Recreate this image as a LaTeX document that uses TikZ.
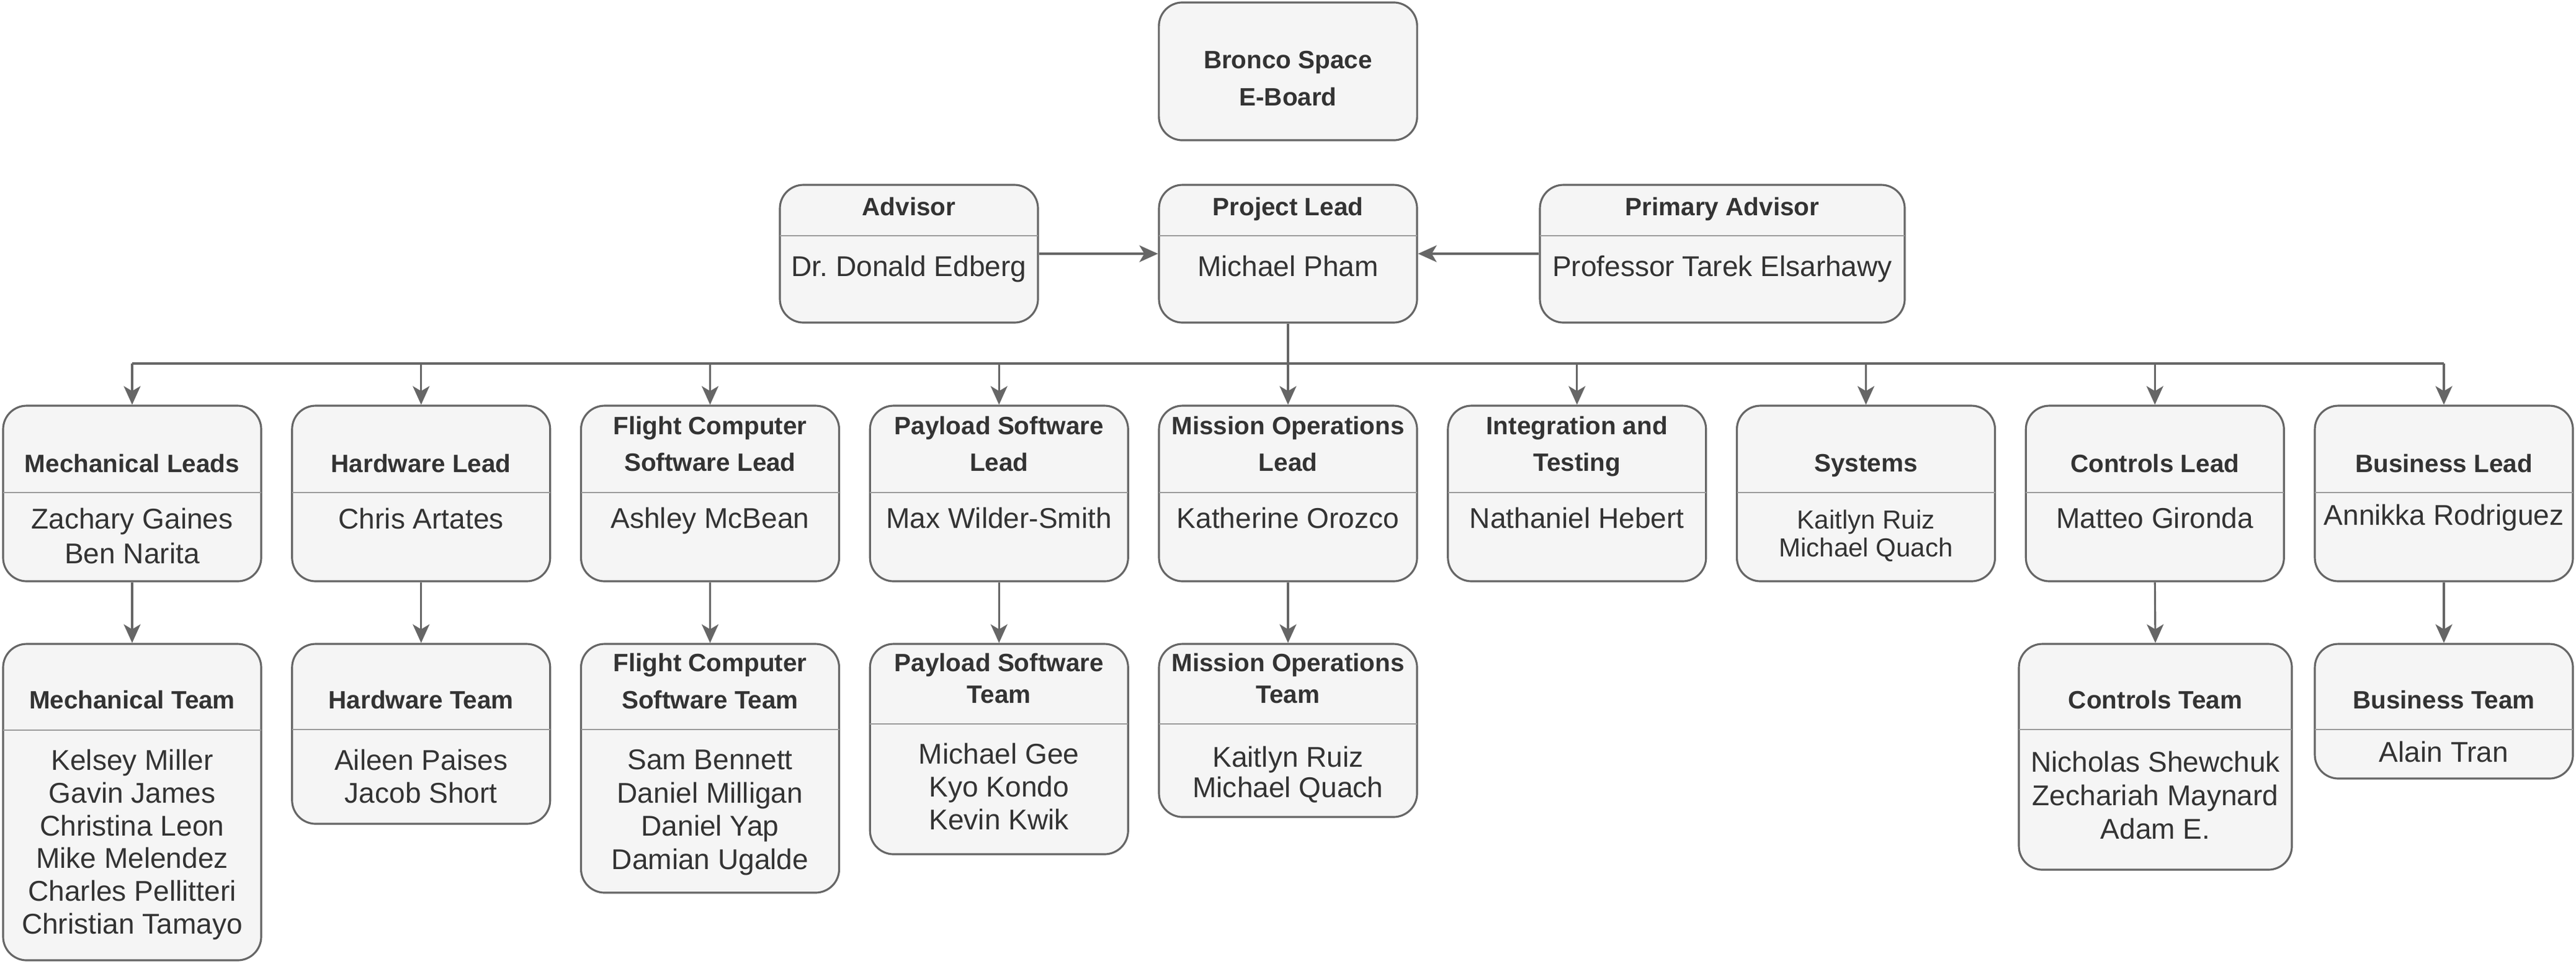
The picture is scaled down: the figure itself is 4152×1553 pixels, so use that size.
\documentclass[tikz,border=0pt]{standalone}
\usepackage{fontspec}
\setmainfont{Liberation Sans}
\frenchspacing
\usetikzlibrary{arrows.meta}
\definecolor{strk}{HTML}{666666}
\definecolor{fillc}{HTML}{F5F5F5}
\definecolor{txt}{HTML}{333333}
\definecolor{divc}{HTML}{9A9A9A}
\newcommand{\obox}[6]{% name, cx, top, bottom, divider y, width
  \node[box, minimum width=#6*0.01cm, minimum height={(#4-#3)*0.01cm}] (#1) at (#2,{(#3+#4)/2}) {};
  \draw[divline] ({#2-#6/2},#5) -- ({#2+#6/2},#5);
}
\tikzset{
  box/.style={draw=strk, fill=fillc, line width=0.9pt, rounded corners=0.38cm, inner sep=0pt},
  divline/.style={draw=divc, line width=0.45pt},
  hd/.style={text=txt, align=center, inner sep=0pt, anchor=base, font=\bfseries\fontsize{11.5pt}{#1}\selectfont},
  hd/.default={16.8pt},
  nm/.style={text=txt, align=center, inner sep=0pt, anchor=base, font=\fontsize{13.1pt}{#1}\selectfont},
  nm/.default={15pt},
  ln/.style={draw=strk, line width=0.9pt},
  arr/.style={ln, -{Stealth[length=0.3cm, width=0.27cm, inset=0.08cm]}},
}
\begin{document}
\begin{tikzpicture}[x=0.01cm, y=-0.01cm]
\useasboundingbox (0,0) rectangle (4152,1553);
% (multi-line texts are placed by the baseline of their last line)

% top
\node[box, minimum width=4.16cm, minimum height=2.22cm] (eb) at (2076,115) {};
\node[hd] (ebt) at (2076,170) {Bronco Space\\E-Board};

% row 0
\obox{adv}{1465}{298}{520}{380}{416}
\node[hd] (advh) at (1465,347) {Advisor};
\node[nm] (advn) at (1465,445) {Dr. Donald Edberg};
\obox{pl}{2076}{298}{520}{380}{416}
\node[hd] (plh) at (2076,347) {Project Lead};
\node[nm] (pln) at (2076,445) {Michael Pham};
\obox{padv}{2776}{298}{520}{380}{588}
\node[hd] (padvh) at (2776,347) {Primary Advisor};
\node[nm] (padvn) at (2776,445) {Professor Tarek Elsarhawy};

% row 1
\obox{ml}{213}{654}{937}{794}{416}
\node[hd] (mlh) at (213,761) {Mechanical Leads};
\node[nm=15.85pt] (mln) at (213,908) {Zachary Gaines\\Ben Narita};
\obox{hl}{678.75}{654}{937}{794}{416}
\node[hd] (hlh) at (678.75,761) {Hardware Lead};
\node[nm] (hln) at (678.75,852) {Chris Artates};
\obox{fl}{1144.5}{654}{937}{794}{416}
\node[hd] (flh) at (1144.5,759.5) {Flight Computer\\Software Lead};
\node[nm] (fln) at (1144.5,851) {Ashley McBean};
\obox{psl}{1610.25}{654}{937}{794}{416}
\node[hd] (pslh) at (1610.25,759.5) {Payload Software\\Lead};
\node[nm] (psln) at (1610.25,851) {Max Wilder-Smith};
\obox{mol}{2076}{654}{937}{794}{416}
\node[hd] (molh) at (2076,759.5) {Mission Operations\\Lead};
\node[nm] (moln) at (2076,851) {Katherine Orozco};
\obox{itl}{2541.75}{654}{937}{794}{416}
\node[hd] (itlh) at (2541.75,759.5) {Integration and\\Testing};
\node[nm] (itln) at (2541.75,851) {Nathaniel Hebert};
\obox{sys}{3007.5}{654}{937}{794}{416}
\node[hd] (sysh) at (3007.5,760) {Systems};
\node[text=txt, align=center, inner sep=0pt, anchor=base, font=\fontsize{11.95pt}{12.8pt}\selectfont] (sysn) at (3007.5,897) {Kaitlyn Ruiz\\Michael Quach};
\obox{cl}{3473.25}{654}{937}{794}{416}
\node[hd] (clh) at (3473.25,761) {Controls Lead};
\node[nm] (cln) at (3473.25,851) {Matteo Gironda};
\obox{bl}{3939}{654}{937}{794}{416}
\node[hd] (blh) at (3939,761) {Business Lead};
\node[nm] (bln) at (3939,846) {Annikka Rodriguez};

% row 2
\obox{mt}{213}{1038}{1548}{1177}{416}
\node[hd] (mth) at (213,1142.6) {Mechanical Team};
\node[nm=14.96pt] (mtn) at (213,1505) {Kelsey Miller\\Gavin James\\Christina Leon\\Mike Melendez\\Charles Pellitteri\\Christian Tamayo};
\obox{ht}{678.75}{1038}{1328}{1176}{416}
\node[hd] (hth) at (678.75,1142.6) {Hardware Team};
\node[nm=15.25pt] (htn) at (678.75,1294.6) {Aileen Paises\\Jacob Short};
\obox{ft}{1144.5}{1038}{1439}{1176}{416}
\node[hd] (fth) at (1144.5,1142) {Flight Computer\\Software Team};
\node[nm=15.2pt] (ftn) at (1144.5,1401) {Sam Bennett\\Daniel Milligan\\Daniel Yap\\Damian Ugalde};
\obox{pst}{1610.25}{1038}{1377}{1167}{416}
\node[hd=14.5pt] (psth) at (1610.25,1133) {Payload Software\\Team};
\node[nm=15.16pt] (pstn) at (1610.25,1337.6) {Michael Gee\\Kyo Kondo\\Kevin Kwik};
\obox{mot}{2076}{1038}{1317}{1167}{416}
\node[hd=14.5pt] (moth) at (2076,1133) {Mission Operations\\Team};
\node[nm=13.94pt] (motn) at (2076,1285) {Kaitlyn Ruiz\\Michael Quach};
\obox{ct}{3474}{1038}{1402}{1176}{440}
\node[hd] (cth) at (3474,1142.6) {Controls Team};
\node[nm=15.36pt] (ctn) at (3474,1352) {Nicholas Shewchuk\\Zechariah Maynard\\Adam E.};
\obox{bt}{3939}{1038}{1255}{1176}{416}
\node[hd] (bth) at (3939,1142.6) {Business Team};
\node[nm] (btn) at (3939,1228) {Alain Tran};

% connectors
\draw[arr] (adv.east) -- (pl.west);
\draw[arr] (padv.west) -- (pl.east);
\coordinate (bus) at (2076,586);
\draw[ln] (pl.south) -- (pl.south |- bus);
\draw[ln] (ml.north |- bus) -- (bl.north |- bus);
\foreach \n in {ml,hl,fl,psl,mol,itl,sys,cl,bl}{
  \draw[arr] (\n.north |- bus) -- (\n.north);
}
\draw[arr] (ml.south) -- (mt.north);
\draw[arr] (hl.south) -- (ht.north);
\draw[arr] (fl.south) -- (ft.north);
\draw[arr] (psl.south) -- (pst.north);
\draw[arr] (mol.south) -- (mot.north);
\draw[arr] (cl.south) -- (ct.north);
\draw[arr] (bl.south) -- (bt.north);
\end{tikzpicture}
\end{document}
